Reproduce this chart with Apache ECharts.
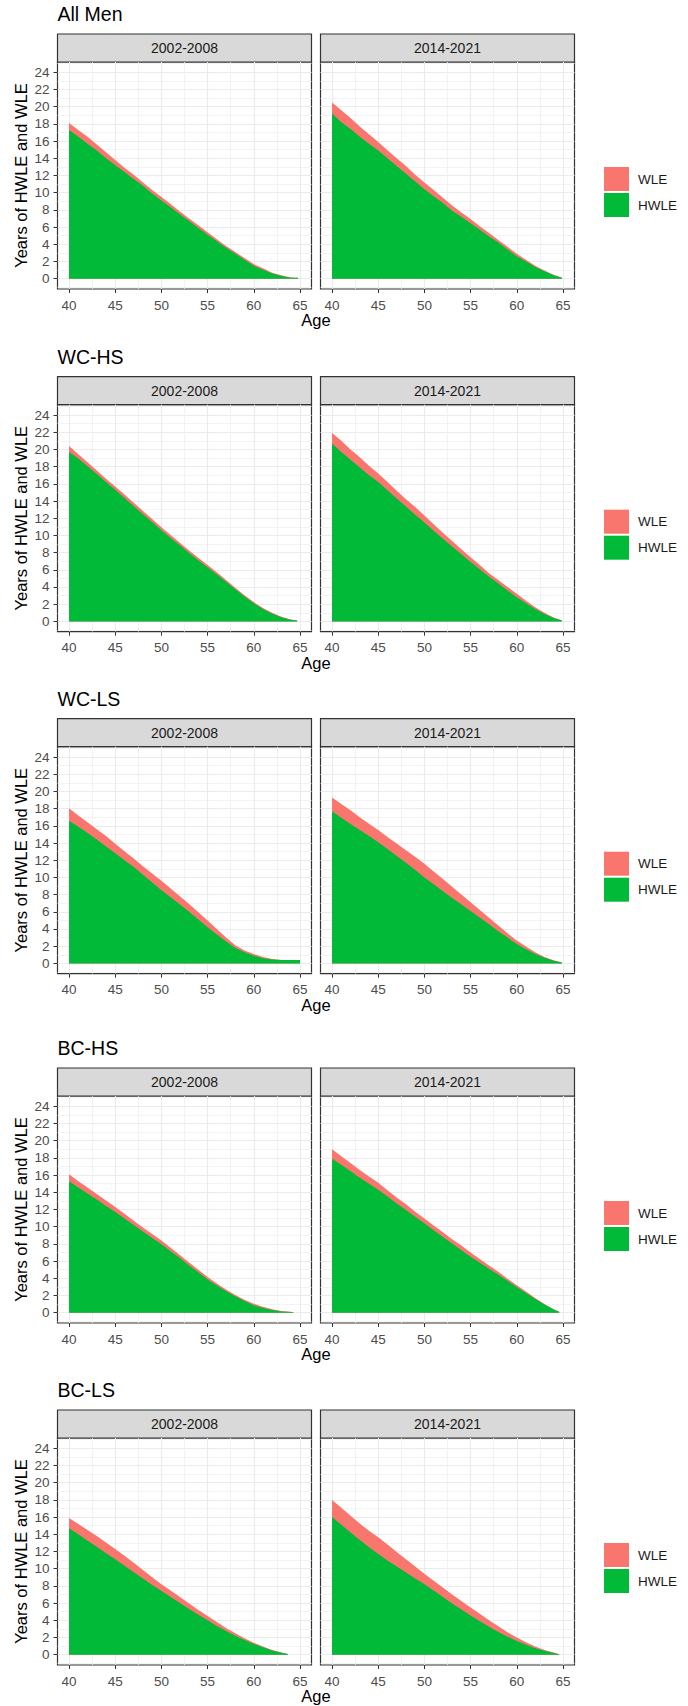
<!DOCTYPE html>
<html><head><meta charset="utf-8">
<script src="https://cdn.jsdelivr.net/npm/echarts@6/dist/echarts.min.js"></script>
<style>html,body{margin:0;padding:0;background:#fff}#c{width:688px;height:1706px}</style>
</head><body><div id="c"></div>
<script>
// ---------- data ----------
const groups = ['All Men', 'WC-HS', 'WC-LS', 'BC-HS', 'BC-LS'];
const periods = ['2002-2008', '2014-2021'];
const ages = [40,41,42,43,44,45,46,47,48,49,50,51,52,53,54,55,56,57,58,59,60,61,62,63,64];
const xTickLabels = [40,45,50,55,60,65];
const yTickLabels = [0,2,4,6,8,10,12,14,16,18,20,22,24];
const xMinorBreaks = [42.5,47.5,52.5,57.5,62.5];
const yMinorBreaks = [-1,1,3,5,7,9,11,13,15,17,19,21,23,25];
// last age point of each panel (the remaining values are at ages 40, 41, ...)
const endAges2002 = [64.8, 64.7, 65, 64.3, 63.7];
const endAges2014 = [64.9, 64.9, 64.9, 64.6, 64.6];

const hwleAllMen2002 = [17.3,16.5,15.7,14.9,14.0,13.2,12.4,11.6,10.8,9.9,9.1,8.3,7.5,6.7,5.9,5.1,4.35,3.6,2.9,2.2,1.5,1.05,0.6,0.3,0.12,0.1];
const wleAllMen2002  = [0.8,0.8,0.8,0.7,0.7,0.6,0.5,0.5,0.4,0.4,0.4,0.4,0.3,0.3,0.3,0.3,0.25,0.2,0.2,0.2,0.2,0.15,0.1,0.1,0.03,0];
const hwleAllMen2014 = [19.2,18.2,17.4,16.5,15.7,14.9,14.0,13.1,12.2,11.3,10.4,9.6,8.8,7.9,7.2,6.45,5.7,4.9,4.2,3.4,2.6,2.0,1.35,0.85,0.4,0.1];
const wleAllMen2014  = [1.3,1.4,1.3,1.2,1.1,1.0,0.95,0.9,0.9,0.8,0.8,0.7,0.6,0.6,0.5,0.5,0.4,0.4,0.3,0.3,0.3,0.2,0.15,0.1,0.05,0];

const hwleWCHS2002 = [19.7,18.95,18.05,17.15,16.2,15.3,14.35,13.4,12.45,11.55,10.6,9.7,8.85,7.95,7.1,6.3,5.45,4.6,3.75,2.9,2.1,1.45,0.9,0.48,0.2,0.1];
const wleWCHS2002  = [0.7,0.5,0.45,0.4,0.4,0.4,0.4,0.4,0.4,0.35,0.35,0.35,0.3,0.3,0.3,0.25,0.25,0.2,0.15,0.15,0.15,0.1,0.1,0.05,0.02,0];
const hwleWCHS2014 = [20.7,19.7,18.8,17.9,17.0,16.2,15.25,14.3,13.35,12.4,11.5,10.55,9.6,8.7,7.8,6.9,6.05,5.2,4.4,3.6,2.8,2.1,1.45,0.85,0.4,0.1];
const wleWCHS2014  = [1.2,1.3,1.2,1.2,1.1,1.0,0.95,0.9,0.85,0.9,0.8,0.75,0.7,0.65,0.6,0.55,0.5,0.4,0.4,0.4,0.4,0.3,0.2,0.15,0.05,0];

const hwleWCLS2002 = [16.6,15.9,15.15,14.4,13.6,12.8,12.0,11.2,10.3,9.4,8.5,7.7,6.85,6.0,5.1,4.2,3.35,2.55,1.8,1.3,0.9,0.6,0.45,0.38,0.38,0.38];
const wleWCLS2002  = [1.45,1.3,1.25,1.2,1.2,1.1,1.05,1.0,1.0,1.05,1.1,1.0,0.95,0.9,0.85,0.8,0.65,0.45,0.3,0.2,0.2,0.15,0.05,0.02,0.02,0.02];
const hwleWCLS2014 = [17.7,16.95,16.2,15.5,14.8,14.1,13.3,12.5,11.7,10.85,10.0,9.2,8.4,7.6,6.85,6.1,5.3,4.55,3.75,3.0,2.25,1.65,1.1,0.65,0.3,0.1];
const wleWCLS2014  = [1.6,1.6,1.6,1.5,1.45,1.4,1.4,1.45,1.45,1.55,1.6,1.5,1.4,1.3,1.15,1.0,0.9,0.75,0.65,0.5,0.4,0.3,0.2,0.1,0.05,0];

const hwleBCHS2002 = [15.3,14.55,13.85,13.15,12.4,11.7,10.95,10.2,9.45,8.7,7.95,7.15,6.35,5.5,4.7,3.85,3.15,2.5,1.9,1.35,0.85,0.55,0.3,0.15,0.07,0.04];
const wleBCHS2002  = [0.8,0.75,0.7,0.65,0.65,0.6,0.55,0.5,0.45,0.45,0.45,0.4,0.35,0.35,0.3,0.3,0.25,0.2,0.15,0.15,0.2,0.15,0.1,0.05,0.03,0.01];
const hwleBCHS2014 = [17.9,17.2,16.45,15.7,15.0,14.3,13.5,12.7,11.95,11.15,10.4,9.6,8.8,8.05,7.25,6.5,5.8,5.1,4.4,3.7,3.0,2.3,1.6,0.95,0.38,0.1];
const wleBCHS2014  = [1.1,1.0,0.95,0.9,0.85,0.8,0.75,0.7,0.65,0.6,0.55,0.55,0.55,0.5,0.55,0.5,0.45,0.4,0.35,0.25,0.2,0.15,0.1,0.05,0.02,0];

const hwleBCLS2002 = [14.7,14.0,13.25,12.55,11.8,11.1,10.35,9.6,8.85,8.1,7.4,6.7,6.0,5.3,4.65,4.0,3.35,2.75,2.2,1.7,1.25,0.85,0.5,0.22,0.07];
const wleBCLS2002  = [1.2,1.2,1.25,1.25,1.25,1.2,1.15,1.1,1.0,0.9,0.8,0.75,0.7,0.65,0.55,0.5,0.45,0.35,0.3,0.2,0.15,0.1,0.05,0.03,0.01];
const hwleBCLS2014 = [16.0,15.1,14.2,13.35,12.5,11.7,10.95,10.25,9.55,8.85,8.2,7.45,6.7,5.95,5.25,4.55,3.9,3.25,2.65,2.1,1.6,1.15,0.75,0.45,0.2,0.05];
const wleBCLS2014  = [2.0,2.0,1.95,1.9,1.9,1.95,1.85,1.7,1.55,1.4,1.2,1.15,1.1,1.05,1.0,0.95,0.85,0.75,0.65,0.5,0.4,0.3,0.2,0.1,0.05,0];

// ---------- assembly ----------
const panelValues = [
  [[hwleAllMen2002, wleAllMen2002], [hwleAllMen2014, wleAllMen2014]],
  [[hwleWCHS2002, wleWCHS2002], [hwleWCHS2014, wleWCHS2014]],
  [[hwleWCLS2002, wleWCLS2002], [hwleWCLS2014, wleWCLS2014]],
  [[hwleBCHS2002, wleBCHS2002], [hwleBCHS2014, wleBCHS2014]],
  [[hwleBCLS2002, wleBCLS2002], [hwleBCLS2014, wleBCLS2014]]
];
const endAges = [endAges2002, endAges2014];

const FONT = '"Liberation Sans", Arial, Helvetica, sans-serif';
const COLORS = { HWLE: '#00BA38', WLE: '#F8766D' };
const rowZero = [278, 620.7, 962.7, 1312, 1654]; // pixel of y=0 in each row
const panelLeft = [57.5, 320.5];
const panelW = 254;
const X_MIN = 38.75, X_MAX = 66.25, Y_MIN = -1.2, Y_MAX = 25.2;

function pts(vals, last) {
  return vals.map((v, i) => [i < vals.length - 1 ? ages[i] : last, v]);
}

const grid = [], xAxis = [], yAxis = [], series = [], graphic = [], legend = [];
let gi = 0;
groups.forEach((g, r) => {
  const y0 = rowZero[r];
  const top = y0 - 216;
  graphic.push({ type: 'text', left: 57.5, top: y0 - 274, style: { text: g, font: '19.5px ' + FONT, fill: '#000' } });
  graphic.push({ type: 'text', x: 316, y: y0 + 42, style: { text: 'Age', font: '16.5px ' + FONT, fill: '#000', align: 'center', verticalAlign: 'middle' } });
  graphic.push({ type: 'text', x: 21, y: top + 113.5, rotation: Math.PI / 2, style: { text: 'Years of HWLE and WLE', font: '16.5px ' + FONT, fill: '#000', align: 'center', verticalAlign: 'middle' } });
  legend.push({
    orient: 'vertical', left: 599, top: y0 - 116, itemWidth: 25, itemHeight: 24, itemGap: 2,
    icon: 'rect', selectedMode: false, data: ['WLE', 'HWLE'],
    itemStyle: { borderWidth: 0 },
    textStyle: { fontFamily: FONT, fontSize: 13.5, color: '#1a1a1a', padding: [0, 0, 0, 4] }
  });
  periods.forEach((p, c) => {
    const left = panelLeft[c];
    graphic.push({ type: 'rect', shape: { x: left, y: y0 - 244, width: panelW, height: 28 }, style: { fill: '#D9D9D9', stroke: '#333333', lineWidth: 1.2 } });
    graphic.push({ type: 'text', x: left + panelW / 2, y: y0 - 230, style: { text: p, font: '14px ' + FONT, fill: '#1A1A1A', align: 'center', verticalAlign: 'middle' } });
    grid.push({ left: left, top: top, width: panelW, height: 227, show: true, backgroundColor: '#fff', borderColor: '#333333', borderWidth: 1.2 });
    const xi = xAxis.length, yi = yAxis.length;
    xAxis.push({
      type: 'value', gridIndex: gi, min: X_MIN, max: X_MAX, position: 'bottom',
      axisLine: { show: false, onZero: false },
      axisTick: { show: true, length: 4, customValues: xTickLabels, lineStyle: { color: '#333333', width: 1 } },
      axisLabel: { show: true, customValues: xTickLabels, margin: 9, color: '#4D4D4D', fontSize: 13.5, fontFamily: FONT },
      splitLine: { show: true, lineStyle: { color: '#EBEBEB', width: 1.1 } }
    });
    xAxis.push({
      type: 'value', gridIndex: gi, min: X_MIN, max: X_MAX, position: 'bottom',
      axisLine: { show: false, onZero: false }, axisTick: { show: false, customValues: xMinorBreaks },
      axisLabel: { show: false, customValues: xMinorBreaks },
      splitLine: { show: true, lineStyle: { color: '#F0F0F0', width: 0.8 } }
    });
    yAxis.push({
      type: 'value', gridIndex: gi, min: Y_MIN, max: Y_MAX, position: 'left',
      axisLine: { show: false, onZero: false },
      axisTick: { show: c === 0, length: 4, customValues: yTickLabels, lineStyle: { color: '#333333', width: 1 } },
      axisLabel: { show: c === 0, customValues: yTickLabels, margin: 8, color: '#4D4D4D', fontSize: 13.5, fontFamily: FONT },
      splitLine: { show: true, lineStyle: { color: '#EBEBEB', width: 1.1 } }
    });
    yAxis.push({
      type: 'value', gridIndex: gi, min: Y_MIN, max: Y_MAX, position: 'left',
      axisLine: { show: false, onZero: false }, axisTick: { show: false, customValues: yMinorBreaks },
      axisLabel: { show: false, customValues: yMinorBreaks },
      splitLine: { show: true, lineStyle: { color: '#F0F0F0', width: 0.8 } }
    });
    const [hw, wl] = panelValues[r][c];
    const last = endAges[c][r];
    // WLE stacked on HWLE: its band's upper edge is HWLE + WLE; HWLE drawn over it.
    const wleTop = wl.map((v, i) => +(v + hw[i]).toFixed(3));
    series.push({
      name: 'WLE', type: 'line', xAxisIndex: xi, yAxisIndex: yi,
      data: pts(wleTop, last), showSymbol: false, symbol: 'none', silent: true,
      lineStyle: { width: 0, color: COLORS.WLE }, itemStyle: { color: COLORS.WLE },
      areaStyle: { color: COLORS.WLE, opacity: 1, origin: 0 }, z: 3
    });
    series.push({
      name: 'HWLE', type: 'line', xAxisIndex: xi, yAxisIndex: yi,
      data: pts(hw, last), showSymbol: false, symbol: 'none', silent: true,
      lineStyle: { width: 0, color: COLORS.HWLE }, itemStyle: { color: COLORS.HWLE },
      areaStyle: { color: COLORS.HWLE, opacity: 1, origin: 0 }, z: 4
    });
    gi++;
  });
});

const chart = echarts.init(document.getElementById('c'), null, { renderer: 'svg', width: 688, height: 1706 });
chart.setOption({
  animation: false,
  backgroundColor: '#fff',
  textStyle: { fontFamily: FONT },
  grid, xAxis, yAxis, series, legend, graphic
});
</script></body></html>
